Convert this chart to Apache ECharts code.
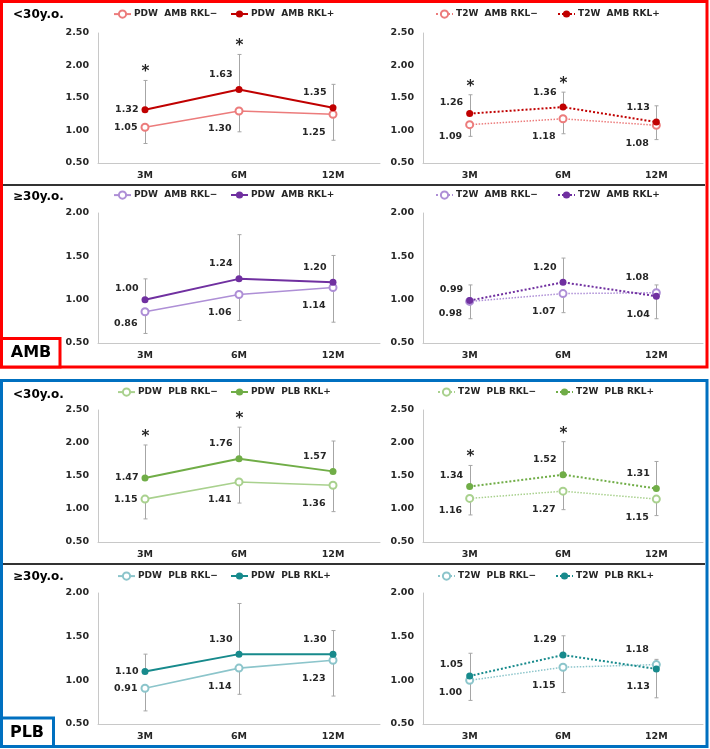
<!DOCTYPE html>
<html><head><meta charset="utf-8">
<script src="https://cdn.jsdelivr.net/npm/echarts@6/dist/echarts.min.js"></script>
<style>html,body{margin:0;padding:0;background:#fff}#c{width:710px;height:749px}</style>
</head><body><div id="c"></div>
<script>
// ---------- DATA ----------
const categories = ['3M', '6M', '12M'];

// AMB, <30 y.o., PDW
const ambU30PdwNeg = [1.05, 1.30, 1.25];
const ambU30PdwPos = [1.32, 1.63, 1.35];
const ambU30PdwNegLow = [0.80, 0.98, 0.85];
const ambU30PdwPosHigh = [1.77, 2.17, 1.71];
const ambU30PdwSig = [1, 1, 0];
// AMB, <30 y.o., T2W
const ambU30T2wNeg = [1.09, 1.18, 1.08];
const ambU30T2wPos = [1.26, 1.36, 1.13];
const ambU30T2wNegLow = [0.91, 0.95, 0.86];
const ambU30T2wPosHigh = [1.55, 1.59, 1.38];
const ambU30T2wSig = [1, 1, 0];
// AMB, >=30 y.o., PDW
const ambO30PdwNeg = [0.86, 1.06, 1.14];
const ambO30PdwPos = [1.00, 1.24, 1.20];
const ambO30PdwNegLow = [0.61, 0.76, 0.74];
const ambO30PdwPosHigh = [1.24, 1.75, 1.51];
const ambO30PdwSig = [0, 0, 0];
// AMB, >=30 y.o., T2W
const ambO30T2wNeg = [0.98, 1.07, 1.08];
const ambO30T2wPos = [0.99, 1.20, 1.04];
const ambO30T2wNegLow = [0.78, 0.85, 0.78];
const ambO30T2wPosHigh = [1.17, 1.48, 1.17];
const ambO30T2wSig = [0, 0, 0];
// PLB, <30 y.o., PDW
const plbU30PdwNeg = [1.15, 1.41, 1.36];
const plbU30PdwPos = [1.47, 1.76, 1.57];
const plbU30PdwNegLow = [0.85, 1.09, 0.96];
const plbU30PdwPosHigh = [1.97, 2.24, 2.03];
const plbU30PdwSig = [1, 1, 0];
// PLB, <30 y.o., T2W
const plbU30T2wNeg = [1.16, 1.27, 1.15];
const plbU30T2wPos = [1.34, 1.52, 1.31];
const plbU30T2wNegLow = [0.91, 0.99, 0.90];
const plbU30T2wPosHigh = [1.66, 2.02, 1.72];
const plbU30T2wSig = [1, 1, 0];
// PLB, >=30 y.o., PDW
const plbO30PdwNeg = [0.91, 1.14, 1.23];
const plbO30PdwPos = [1.10, 1.30, 1.30];
const plbO30PdwNegLow = [0.65, 0.84, 0.82];
const plbO30PdwPosHigh = [1.30, 1.88, 1.57];
const plbO30PdwSig = [0, 0, 0];
// PLB, >=30 y.o., T2W
const plbO30T2wNeg = [1.00, 1.15, 1.18];
const plbO30T2wPos = [1.05, 1.29, 1.13];
const plbO30T2wNegLow = [0.77, 0.86, 0.80];
const plbO30T2wPosHigh = [1.31, 1.51, 1.24];
const plbO30T2wSig = [0, 0, 0];

const yMaxU30 = 2.5, yMaxO30 = 2.0, yMin = 0.5, yStep = 0.5;

// ---------- LAYOUT / STYLE ----------
const FONT = 'DejaVu Sans';
const TXT = '#262626';
const rows = [
  {top: 33, h: 130, legTop: 9.5, title: '<30y.o.', titleY: 15},
  {top: 213, h: 130, legTop: 190.5, title: '\u226530y.o.', titleY: 197},
  {top: 410, h: 132, legTop: 387.5, title: '<30y.o.', titleY: 395},
  {top: 593, h: 131, legTop: 571.5, title: '\u226530y.o.', titleY: 577}
];
const cols = [{left: 98, w: 282}, {left: 423, w: 280}];
const colorSets = [
  {pos: '#C00000', neg: '#EC7C7C'},
  {pos: '#7030A0', neg: '#AE8FD6'},
  {pos: '#70AD47', neg: '#A9D18E'},
  {pos: '#178A8C', neg: '#8CC5CB'}
];

const panels = [
  {row: 0, col: 0, grp: 'AMB', seq: 'PDW', neg: ambU30PdwNeg, pos: ambU30PdwPos, negLow: ambU30PdwNegLow, posHigh: ambU30PdwPosHigh, sig: ambU30PdwSig, max: yMaxU30},
  {row: 0, col: 1, grp: 'AMB', seq: 'T2W', neg: ambU30T2wNeg, pos: ambU30T2wPos, negLow: ambU30T2wNegLow, posHigh: ambU30T2wPosHigh, sig: ambU30T2wSig, max: yMaxU30},
  {row: 1, col: 0, grp: 'AMB', seq: 'PDW', neg: ambO30PdwNeg, pos: ambO30PdwPos, negLow: ambO30PdwNegLow, posHigh: ambO30PdwPosHigh, sig: ambO30PdwSig, max: yMaxO30},
  {row: 1, col: 1, grp: 'AMB', seq: 'T2W', neg: ambO30T2wNeg, pos: ambO30T2wPos, negLow: ambO30T2wNegLow, posHigh: ambO30T2wPosHigh, sig: ambO30T2wSig, max: yMaxO30},
  {row: 2, col: 0, grp: 'PLB', seq: 'PDW', neg: plbU30PdwNeg, pos: plbU30PdwPos, negLow: plbU30PdwNegLow, posHigh: plbU30PdwPosHigh, sig: plbU30PdwSig, max: yMaxU30},
  {row: 2, col: 1, grp: 'PLB', seq: 'T2W', neg: plbU30T2wNeg, pos: plbU30T2wPos, negLow: plbU30T2wNegLow, posHigh: plbU30T2wPosHigh, sig: plbU30T2wSig, max: yMaxU30},
  {row: 3, col: 0, grp: 'PLB', seq: 'PDW', neg: plbO30PdwNeg, pos: plbO30PdwPos, negLow: plbO30PdwNegLow, posHigh: plbO30PdwPosHigh, sig: plbO30PdwSig, max: yMaxO30},
  {row: 3, col: 1, grp: 'PLB', seq: 'T2W', neg: plbO30T2wNeg, pos: plbO30T2wPos, negLow: plbO30T2wNegLow, posHigh: plbO30T2wPosHigh, sig: plbO30T2wSig, max: yMaxO30}
];
const legendLefts = {
  'AMB0': [113, 230], 'AMB1': [435, 557],
  'PLB0': [117, 230], 'PLB1': [437, 555]
};

const displayNames = {};
const grids = [], xAxes = [], yAxes = [], series = [], legends = [];

function labelDy(j, self, other, range, h) {
  const gap = Math.abs(self - other) * h / range;
  const up = self > other;
  if (j === 0) {
    if (gap >= 15) return 0;
    return up ? -11 : 12;
  }
  return up ? -15 : 18;
}

panels.forEach((p, i) => {
  const r = rows[p.row], c = cols[p.col], cs = colorSets[p.row];
  const range = p.max - yMin;
  grids.push({left: c.left, top: r.top, width: c.w, height: r.h});
  xAxes.push({
    type: 'category', gridIndex: i, data: categories,
    axisLine: {lineStyle: {color: '#C8C8C8', width: 1}},
    axisTick: {show: false},
    axisLabel: {color: TXT, fontFamily: FONT, fontWeight: 'bold', fontSize: 9.5, margin: 8}
  });
  yAxes.push({
    type: 'value', gridIndex: i, min: yMin, max: p.max, interval: yStep,
    axisLine: {show: true, lineStyle: {color: '#C8C8C8', width: 1}},
    axisTick: {show: false},
    splitLine: {show: false},
    axisLabel: {color: TXT, fontFamily: FONT, fontWeight: 'bold', fontSize: 9.5, margin: 9,
      formatter: v => v.toFixed(2)}
  });
  // error bars + asterisks
  series.push({
    type: 'custom', xAxisIndex: i, yAxisIndex: i, z: 1, silent: true,
    data: categories.map((cat, j) => [j, p.pos[j], p.posHigh[j], p.neg[j], p.negLow[j], p.sig[j]]),
    encode: {x: 0, y: [1, 2, 3, 4]},
    renderItem: function (params, api) {
      const idx = api.value(0);
      const a = api.coord([idx, api.value(1)]);
      const b = api.coord([idx, api.value(2)]);
      const cN = api.coord([idx, api.value(3)]);
      const d = api.coord([idx, api.value(4)]);
      const st = {stroke: '#A6A6A6', lineWidth: 1};
      const x = Math.round(a[0]) + 0.5;
      const ch = [
        {type: 'line', shape: {x1: x, y1: a[1], x2: x, y2: b[1]}, style: st},
        {type: 'line', shape: {x1: x - 2, y1: b[1], x2: x + 2, y2: b[1]}, style: st},
        {type: 'line', shape: {x1: x, y1: cN[1], x2: x, y2: d[1]}, style: st},
        {type: 'line', shape: {x1: x - 2, y1: d[1], x2: x + 2, y2: d[1]}, style: st}
      ];
      if (api.value(5)) {
        ch.push({type: 'text', style: {text: '*', x: x, y: b[1] - 8, align: 'center',
          verticalAlign: 'middle', font: 'bold 15px "DejaVu Sans"', fill: TXT}});
      }
      return {type: 'group', children: ch};
    }
  });
  const nameNeg = 'p' + i + 'neg', namePos = 'p' + i + 'pos';
  displayNames[nameNeg] = p.seq + '  ' + p.grp + ' RKL\u2212';
  displayNames[namePos] = p.seq + '  ' + p.grp + ' RKL+';
  const dotted = p.seq === 'T2W';
  const mk = (vals, other) => vals.map((v, j) => ({
    value: v,
    label: {offset: [0, labelDy(j, v, other[j], range, r.h)]}
  }));
  const lab = {show: true, position: 'left', distance: 3, color: TXT, fontFamily: FONT,
    fontWeight: 'bold', fontSize: 9.5, formatter: q => q.value.toFixed(2)};
  series.push({
    type: 'line', name: nameNeg, xAxisIndex: i, yAxisIndex: i, z: 3,
    data: mk(p.neg, p.pos),
    symbol: 'emptyCircle', symbolSize: 7,
    itemStyle: {color: cs.neg, borderColor: cs.neg, borderWidth: 1.2},
    lineStyle: {color: cs.neg, width: dotted ? 1.5 : 1.6, type: dotted ? 'dotted' : 'solid'},
    label: lab, emphasis: {disabled: true}
  });
  series.push({
    type: 'line', name: namePos, xAxisIndex: i, yAxisIndex: i, z: 4,
    data: mk(p.pos, p.neg),
    symbol: 'circle', symbolSize: 7,
    itemStyle: {color: cs.pos},
    lineStyle: {color: cs.pos, width: 2, type: dotted ? 'dotted' : 'solid'},
    label: lab, emphasis: {disabled: true}
  });
  const ll = legendLefts[p.grp + p.col];
  [nameNeg, namePos].forEach((nm, k) => {
    legends.push({
      data: [nm], left: ll[k], top: r.legTop, itemWidth: 17, itemHeight: 9, padding: 0,
      selectedMode: false,
      formatter: n => displayNames[n],
      textStyle: {color: TXT, fontFamily: FONT, fontWeight: 'bold', fontSize: 9, padding: [0, 0, 0, -2]}
    });
  });
});

// ---------- FRAME GRAPHICS ----------
const graphics = [
  {type: 'rect', shape: {x: 1.5, y: 1.5, width: 705.5, height: 365.5}, style: {fill: 'none', stroke: '#FF0000', lineWidth: 3}, z: 10},
  {type: 'line', shape: {x1: 3, y1: 185, x2: 705, y2: 185}, style: {stroke: '#333333', lineWidth: 2}, z: 10},
  {type: 'rect', shape: {x: 1.5, y: 338.5, width: 58.5, height: 28.5}, style: {fill: '#fff', stroke: '#FF0000', lineWidth: 3}, z: 11},
  {type: 'text', style: {text: 'AMB', x: 31, y: 353, align: 'center', verticalAlign: 'middle', font: 'bold 16px "DejaVu Sans"', fill: '#000'}, z: 12},
  {type: 'rect', shape: {x: 1.5, y: 380.5, width: 705.5, height: 366}, style: {fill: 'none', stroke: '#0070C0', lineWidth: 3}, z: 10},
  {type: 'line', shape: {x1: 3, y1: 564, x2: 705, y2: 564}, style: {stroke: '#333333', lineWidth: 2}, z: 10},
  {type: 'rect', shape: {x: 1.5, y: 718, width: 52, height: 28.5}, style: {fill: '#fff', stroke: '#0070C0', lineWidth: 3}, z: 11},
  {type: 'text', style: {text: 'PLB', x: 27, y: 733, align: 'center', verticalAlign: 'middle', font: 'bold 16px "DejaVu Sans"', fill: '#000'}, z: 12}
];
rows.forEach(r => {
  graphics.push({type: 'text', style: {text: r.title, x: 13, y: r.titleY, align: 'left', verticalAlign: 'middle',
    font: 'bold 12px "DejaVu Sans"', fill: '#000'}, z: 12});
});

const chart = echarts.init(document.getElementById('c'), null, {renderer: 'canvas'});
chart.setOption({
  animation: false,
  backgroundColor: '#fff',
  grid: grids, xAxis: xAxes, yAxis: yAxes, series: series, legend: legends,
  graphic: graphics
});
</script></body></html>
